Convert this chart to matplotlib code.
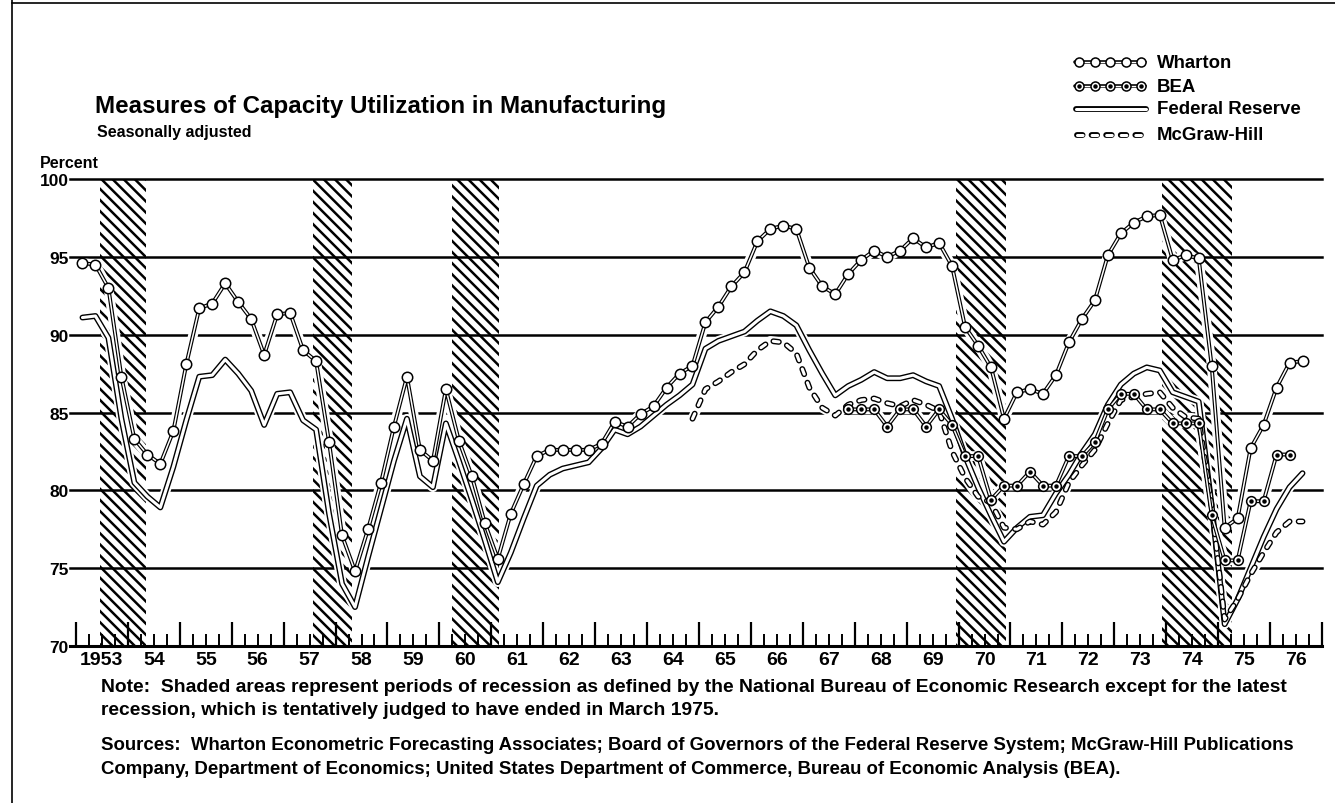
import numpy as np
import matplotlib
matplotlib.use("Agg")
import matplotlib.pyplot as plt

plt.rcParams['font.family'] = ['Liberation Sans', 'DejaVu Sans']
plt.rcParams['hatch.linewidth'] = 1.8
plt.rcParams['lines.scale_dashes'] = False

# --- data (quarterly, percent) ---
wharton_start = 1953.0   # 1953 Q1
wharton = [94.6, 94.5, 93.0, 87.3,
           83.3, 82.3, 81.7, 83.8,
           88.1, 91.7, 92.0, 93.3,
           92.1, 91.0, 88.7, 91.3,
           91.4, 89.0, 88.3, 83.1,
           77.1, 74.8, 77.5, 80.5,
           84.1, 87.3, 82.6, 81.9,
           86.5, 83.2, 80.9, 77.9,
           75.6, 78.5, 80.4, 82.2,
           82.6, 82.6, 82.6, 82.6,
           83.0, 84.4, 84.1, 84.9,
           85.4, 86.6, 87.5, 88.0,
           90.8, 91.8, 93.1, 94.0,
           96.0, 96.8, 97.0, 96.8,
           94.3, 93.1, 92.6, 93.9,
           94.8, 95.4, 95.0, 95.4,
           96.2, 95.6, 95.9, 94.4,
           90.5, 89.3, 87.9, 84.6,
           86.3, 86.5, 86.2, 87.4,
           89.5, 91.0, 92.2, 95.1,
           96.5, 97.2, 97.6, 97.7,
           94.8, 95.1, 94.9, 88.0,
           77.6, 78.2, 82.7, 84.2,
           86.6, 88.2, 88.3]

fed_start = 1953.0   # 1953 Q1
fed = [91.1, 91.2, 89.8, 84.6,
       80.5, 79.6, 78.9, 81.5,
       84.5, 87.3, 87.4, 88.4,
       87.5, 86.4, 84.2, 86.2,
       86.3, 84.5, 83.9, 78.5,
       74.0, 72.5, 75.7, 78.8,
       81.9, 84.6, 80.9, 80.2,
       84.3, 81.9, 79.4, 76.8,
       74.1, 76.0, 78.2, 80.3,
       81.0, 81.4, 81.6, 81.8,
       82.7, 83.9, 83.6, 84.1,
       84.8, 85.5, 86.1, 86.8,
       89.1, 89.6, 89.9, 90.2,
       90.9, 91.5, 91.2, 90.6,
       89.0, 87.5, 86.1, 86.7,
       87.1, 87.6, 87.2, 87.2,
       87.4, 87.0, 86.7, 84.6,
       82.2, 80.2, 78.4, 76.7,
       77.6, 78.3, 78.4, 79.8,
       81.0, 82.4, 83.6, 85.5,
       86.8, 87.5, 87.9, 87.7,
       86.3, 86.0, 85.7, 79.0,
       71.4, 73.0, 75.0, 77.0,
       78.8, 80.2, 81.1]

bea_start = 1967.75   # 1967 Q4
bea = [85.2,
       85.2, 85.2, 84.1, 85.2,
       85.2, 84.1, 85.2, 84.2,
       82.2, 82.2, 79.4, 80.3,
       80.3, 81.2, 80.3, 80.3,
       82.2, 82.2, 83.1, 85.2,
       86.2, 86.2, 85.2, 85.2,
       84.3, 84.3, 84.3, 78.4,
       75.5, 75.5, 79.3, 79.3,
       82.3, 82.3]

mcgraw_start = 1964.75   # 1964 Q4
mcgraw = [84.6,
          86.5, 87.0, 87.6, 88.1,
          89.0, 89.6, 89.5, 88.8,
          86.6, 85.3, 84.8, 85.5,
          85.8, 85.9, 85.6, 85.4,
          85.8, 85.5, 85.1, 82.5,
          80.8, 79.6, 79.2, 77.6,
          77.5, 78.0, 77.8, 78.6,
          80.5, 81.6, 82.6, 84.3,
          85.8, 86.0, 86.2, 86.3,
          85.3, 84.7, 84.6, 79.0,
          71.7, 73.0, 74.6, 76.0,
          77.3, 78.0, 78.0]

recession_start = [1953.46, 1957.57, 1960.24, 1969.96, 1973.92]
recession_end = [1954.35, 1958.32, 1961.15, 1970.92, 1975.27]

years = list(range(1953, 1977))
year_labels = ['1953'] + [str(y)[2:] for y in years[1:]]
y_ticks = [70, 75, 80, 85, 90, 95, 100]

legend_labels = ['Wharton', 'BEA', 'Federal Reserve', 'McGraw-Hill']

note_lines = [
    "Note:  Shaded areas represent periods of recession as defined by the National Bureau of Economic Research except for the latest",
    "recession, which is tentatively judged to have ended in March 1975.",
]
source_lines = [
    "Sources:  Wharton Econometric Forecasting Associates; Board of Governors of the Federal Reserve System; McGraw-Hill Publications",
    "Company, Department of Economics; United States Department of Commerce, Bureau of Economic Analysis (BEA).",
]


def quarters(start, n):
    return start + 0.125 + 0.25 * np.arange(n)


def double_line(a, x, y, outer, inner, z, dashes=None):
    kw = dict(solid_capstyle='round', dash_capstyle='round', solid_joinstyle='round')
    if dashes is not None:
        kw['dashes'] = dashes
    a.plot(x, y, color='black', lw=outer, zorder=z, **kw)
    a.plot(x, y, color='white', lw=inner, zorder=z + 0.1, **kw)


def open_circles(a, x, y, z, ms=7.5, dot=False):
    a.plot(x, y, 'o', ms=ms, mfc='white', mec='black', mew=1.1, zorder=z)
    if dot:
        a.plot(x, y, 'o', ms=2.2, color='black', zorder=z + 0.1)


W, H = 1335, 804
fig = plt.figure(figsize=(W / 100, H / 100), dpi=100)
fig.patch.set_facecolor('white')

ax = fig.add_axes([70 / W, 1 - 647 / H, 1252 / W, 467 / H])
ax.set_xlim(1952.885, 1977.0)
ax.set_ylim(70, 100)

# grid and recession hatching
for v in y_ticks[1:]:
    ax.axhline(v, color='black', lw=1.8, zorder=1, clip_on=False)
for s, e in zip(recession_start, recession_end):
    ax.axvspan(s, e, facecolor='none', edgecolor='black', hatch='\\\\\\', lw=0, zorder=2)

xw = quarters(wharton_start, len(wharton))
xf = quarters(fed_start, len(fed))
xb = quarters(bea_start, len(bea))
xm = quarters(mcgraw_start, len(mcgraw))

# white halo so the grid breaks around the curves
for x, y in [(xw, wharton), (xf, fed), (xb, bea), (xm, mcgraw)]:
    ax.plot(x, y, color='white', lw=7, solid_capstyle='round', zorder=3)

double_line(ax, xf, fed, 4.2, 2.2, 4)
double_line(ax, xm, mcgraw, 4.2, 2.2, 4.4, dashes=(4, 6.5))
double_line(ax, xw, wharton, 2.8, 1.1, 5)
double_line(ax, xb, bea, 2.8, 1.1, 5.4)
open_circles(ax, xw, wharton, 6)
open_circles(ax, xb, bea, 6.4, ms=7, dot=True)

# axes styling
for side in ['top', 'right', 'left']:
    ax.spines[side].set_visible(False)
ax.spines['bottom'].set_linewidth(2.2)
ax.set_xticks(years + [1977])
ax.set_xticks(np.arange(1953, 1977, 0.25), minor=True)
ax.tick_params(axis='x', which='major', direction='in', length=17, width=1.6, labelbottom=False)
ax.tick_params(axis='x', which='minor', direction='in', length=9, width=1.4)
ax.set_yticks(y_ticks)
ax.set_yticklabels([str(v) for v in y_ticks], fontsize=12.5, fontweight='bold')
ax.tick_params(axis='y', length=0, pad=1)
for yr, lab in zip(years, year_labels):
    ax.text(yr + 0.5, 69.65, lab, ha='center', va='top', fontsize=14, fontweight='bold')

# overlay in pixel coordinates for legend and borders
lax = fig.add_axes([0, 0, 1, 1])
lax.set_xlim(0, W)
lax.set_ylim(H, 0)
lax.axis('off')
lax.plot([12, 12], [0, H], color='black', lw=1.2)
lax.plot([12, W], [4, 4], color='black', lw=1.2)

lx = np.linspace(1079, 1141, 5)
double_line(lax, [1075, 1145], [63, 63], 2.6, 1.0, 5)
open_circles(lax, lx, [63] * 5, 6, ms=6.5)
double_line(lax, [1075, 1145], [87, 87], 2.6, 1.0, 5)
open_circles(lax, lx, [87] * 5, 6, ms=6.5, dot=True)
double_line(lax, [1076, 1146], [110, 110], 4.2, 2.2, 5)
double_line(lax, [1077, 1146], [136, 136], 4.2, 2.2, 5, dashes=(4, 6.5))
for yy, lab in zip([63, 87, 110, 136], legend_labels):
    lax.text(1157, yy, lab, ha='left', va='center', fontsize=13.4, fontweight='bold')

# titles and notes
lax.text(95, 107, 'Measures of Capacity Utilization in Manufacturing',
         ha='left', va='center', fontsize=17.4, fontweight='bold')
lax.text(97, 133, 'Seasonally adjusted', ha='left', va='center', fontsize=11.5, fontweight='bold')
lax.text(40, 164, 'Percent', ha='left', va='center', fontsize=11.5, fontweight='bold')

for yy, line in zip([688, 711], note_lines):
    lax.text(101, yy, line, ha='left', va='center', fontsize=13.9, fontweight='bold')
for yy, line in zip([746, 770], source_lines):
    lax.text(101, yy, line, ha='left', va='center', fontsize=13.45, fontweight='bold')

fig.savefig('out.png', dpi=100, facecolor='white')
